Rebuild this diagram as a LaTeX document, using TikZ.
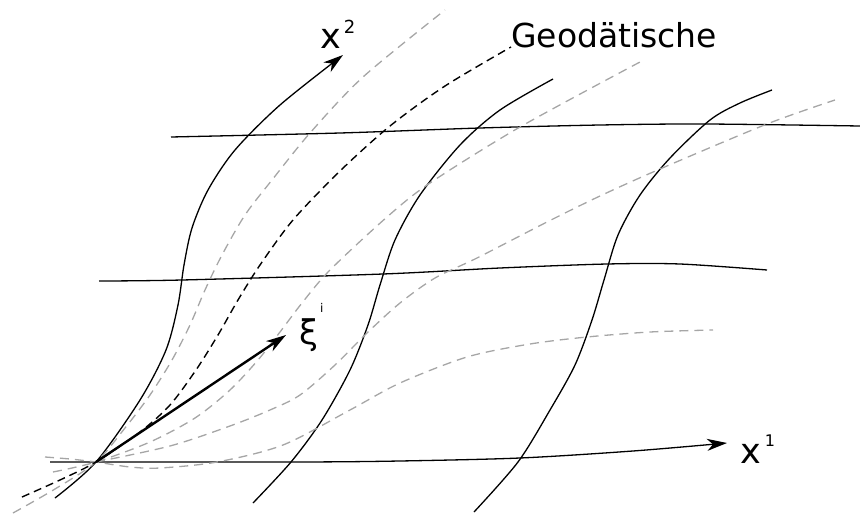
\documentclass[tikz,border=0pt]{standalone}
\usepackage{fontspec}
\setmainfont{DejaVu Sans}
\usetikzlibrary{arrows.meta}
\begin{document}
\begin{tikzpicture}[x=1pt, y=-1pt, line join=round,
	netz/.style={line width=1.3pt},
	geod/.style={black!35, line width=1.3pt, dash pattern=on 9pt off 6pt},
	geodhaupt/.style={black, line width=1.4pt, dash pattern=on 8pt off 5pt},
	pfeil/.style={-{Stealth[length=20pt, width=12pt, inset=6pt]}},
	beschr/.style={inner sep=0pt, anchor=base west}]
	\useasboundingbox (0,0) rectangle (860,514);
	
	% ====== PUNKTE UND BESCHRIFTUNGEN ======
	\coordinate (P) at (96,462);
	\coordinate (spitzeZwei) at (343,55);
	\coordinate (spitzeEins) at (727,443);
	\coordinate (spitzeXi) at (286,335);
	\node[beschr, font=\fontsize{35}{35}\selectfont] (xzwei) at (320,48) {x\hspace{3pt}\raisebox{15pt}{\fontsize{18}{18}\selectfont 2}};
	\node[beschr, font=\fontsize{35}{35}\selectfont] (xeins) at (740,463) {x\hspace{4pt}\raisebox{17pt}{\fontsize{16}{16}\selectfont 1}};
	\node[beschr, font=\fontsize{34}{34}\selectfont] (xi) at (299,344) {ξ\hspace{2pt}\raisebox{32pt}{\fontsize{12}{12}\selectfont i}};
	\node[beschr, font=\fontsize{33}{33}\selectfont] (geo) at (511,47) {Geodätische};
	
	% ====== KOORDINATENLINIEN x^1 ======
	\draw[netz] plot[smooth] coordinates {(171,137) (340,133) (480,128) (600,125) (705,124) (860,126)};
	\draw[netz] plot[smooth] coordinates {(99,281) (182,280) (383,274) (500,268) (607,264) (680,264) (767,270)};
	\draw[netz, pfeil] plot[smooth] coordinates {(50,462) (P) (300,462) (400,461) (520,458) (633,451) (spitzeEins)};
	
	% ====== KOORDINATENLINIEN x^2 ======
	\draw[netz, pfeil] plot[smooth] coordinates {(55,498) (P) (140,400) (166,350) (178,305) (184,265) (192,228) (208,190) (235,150) (280,105) (spitzeZwei)};
	\draw[netz] plot[smooth] coordinates {(253,503) (291,462) (322,420) (350,370) (368,325) (380,285) (395,240) (420,195) (460,145) (500,110) (553,79)};
	\draw[netz] plot[smooth] coordinates {(474,512) (518,462) (550,410) (575,365) (592,320) (604,280) (618,235) (640,195) (670,158) (710,120) (740,103) (772,90)};
	
	% ====== GEODÄTEN DURCH P ======
	\draw[geod] plot[smooth] coordinates {(13,513) (55,489) (P) (125,428) (150,395) (172,360) (190,325) (205,290) (222,255) (245,215) (272,180) (310,133) (363,77) (445,10)};
	\draw[geod] plot[smooth] coordinates {(53,472) (P) (150,442) (195,418) (230,390) (258,360) (280,332) (302,303) (330,270) (387,217) (430,183) (520,127) (640,62)};
	\draw[geod] plot[smooth] coordinates {(P) (170,446) (230,426) (270,410) (300,395) (335,365) (367,333) (400,303) (435,278) (477,258) (547,222) (600,196) (660,169) (767,124) (835,100)};
	\draw[geod] plot[smooth] coordinates {(45,457) (70,459) (P) (130,467) (160,468) (217,462) (283,445) (350,410) (400,383) (467,357) (530,344) (587,337) (650,332) (713,330)};
	\draw[geodhaupt] plot[smooth] coordinates {(22,497) (60,480) (P) (140,432) (170,405) (196,370) (218,335) (238,300) (260,265) (293,220) (340,171) (390,126) (445,86) (geo.base west)};
	
	% ====== VEKTOR xi ======
	\draw[line width=2.4pt, pfeil] (P) -- (spitzeXi);
\end{tikzpicture}
\end{document}
